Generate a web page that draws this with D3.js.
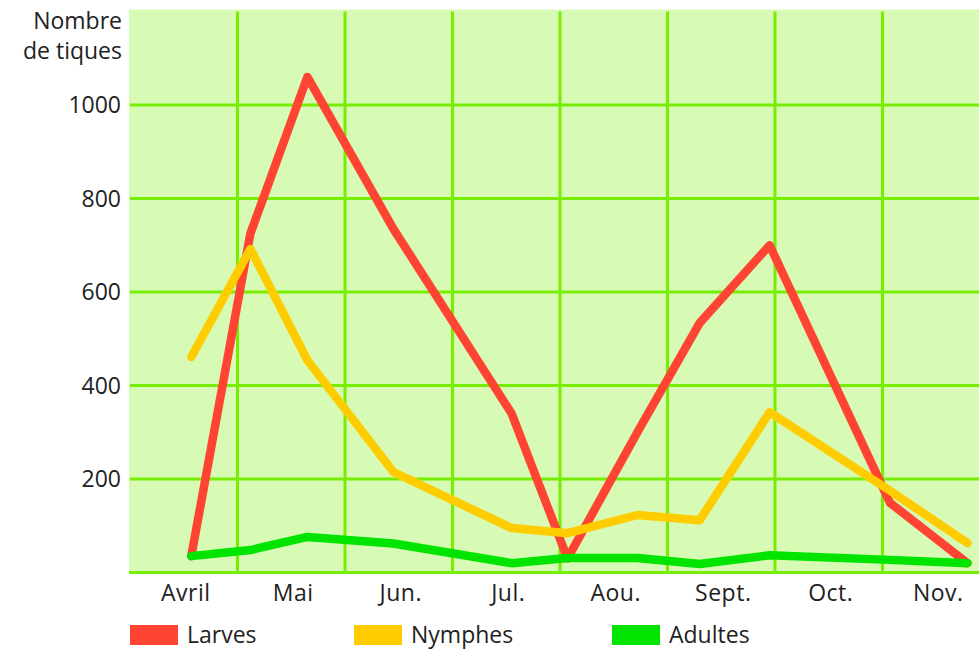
<!DOCTYPE html>
<html>
<head>
<meta charset="utf-8">
<script src="https://cdn.jsdelivr.net/npm/d3@7"></script>
<style>
  body { margin: 0; background: #fff; }
  text { font-family: "Open Sans", sans-serif; fill: #222; }
</style>
</head>
<body>
<svg id="chart"></svg>
<script>
// Months (x axis categories) and sampling positions (in months from start of Avril)
const months = ["Avril", "Mai", "Jun.", "Jul.", "Aou.", "Sept.", "Oct.", "Nov."];
const sampleAt = [0.57, 1.12, 1.65, 2.45, 3.55, 4.07, 4.72, 5.3, 5.95, 7.07, 7.79];

// Series values (nombre de tiques)
const larves  = [35, 725, 1060, 735, 340, 30, 300, 534, 700, 149, 20];
const nymphes = [461, 692, 454, 215, 95, 84, 123, 112, 343, 175, 63];
const adultes = [35, 48, 76, 62, 20, 31, 31, 18, 37, 27, 20];

const yTicks = [200, 400, 600, 800, 1000];
const yTitle = ["Nombre", "de tiques"];

const series = [
  { name: "Larves", values: larves, color: "#ff4433" },
  { name: "Nymphes", values: nymphes, color: "#ffcc00" },
  { name: "Adultes", values: adultes, color: "#00e400" }
];

const W = 979, H = 649;
const plot = { left: 130, right: 990, top: 11.5, bottom: 572.5 };

const svg = d3.select('#chart')
    .attr('width', W)
    .attr('height', H);

const x = d3.scaleLinear()
    .domain([0, months.length])
    .range([plot.left, plot.right]);

const y = d3.scaleLinear()
    .domain([0, 1200])
    .range([plot.bottom, plot.top]);

// background
svg.append('rect')
    .attr('x', plot.left - 1)
    .attr('y', 9.5)
    .attr('width', W - plot.left + 1)
    .attr('height', plot.bottom - 9.5)
    .attr('fill', '#d7fbb5');

// grid
const gridColor = '#77ee00';
svg.append('g')
  .selectAll('line')
  .data(d3.range(1, months.length))
  .enter().append('line')
    .attr('x1', d => x(d)).attr('x2', d => x(d))
    .attr('y1', plot.top).attr('y2', plot.bottom)
    .attr('stroke', gridColor)
    .attr('stroke-width', 3);

svg.append('g')
  .selectAll('line')
  .data(yTicks)
  .enter().append('line')
    .attr('x1', plot.left).attr('x2', W)
    .attr('y1', d => y(d)).attr('y2', d => y(d))
    .attr('stroke', gridColor)
    .attr('stroke-width', 3);

// bottom axis line
svg.append('line')
    .attr('x1', plot.left - 1).attr('x2', W)
    .attr('y1', y(0)).attr('y2', y(0))
    .attr('stroke', gridColor)
    .attr('stroke-width', 3);

// lines
const line = d3.line()
    .x((d, i) => x(sampleAt[i]))
    .y(d => y(d));

svg.append('g')
  .selectAll('path')
  .data(series)
  .enter().append('path')
    .attr('d', d => line(d.values))
    .attr('fill', 'none')
    .attr('stroke', d => d.color)
    .attr('stroke-width', 8.5)
    .attr('stroke-linejoin', 'round')
    .attr('stroke-linecap', 'round');

// y tick labels
svg.append('g')
  .selectAll('text')
  .data(yTicks)
  .enter().append('text')
    .attr('x', 121)
    .attr('y', d => y(d))
    .attr('dy', '0.35em')
    .attr('text-anchor', 'end')
    .style('font-size', '23px')
    .text(d => d);

// y title (two lines in one text)
svg.append('text')
    .attr('x', 122).attr('y', 29)
    .attr('text-anchor', 'end')
    .style('font-size', '23px')
  .selectAll('tspan')
  .data(yTitle)
  .enter().append('tspan')
    .attr('x', 122)
    .attr('dy', (d, i) => i ? 30 : 0)
    .text(d => d);

// month labels
svg.append('g')
  .selectAll('text')
  .data(months)
  .enter().append('text')
    .attr('x', (d, i) => x(i + 0.5) + 2)
    .attr('y', 601)
    .attr('text-anchor', 'middle')
    .style('font-size', '23px')
    .style('letter-spacing', '0.5px')
    .text(d => d);

// legend
const legendX = [130, 354, 612];
const legend = svg.append('g')
  .selectAll('g')
  .data(series)
  .enter().append('g')
    .attr('transform', (d, i) => `translate(${legendX[i]},625)`);

legend.append('rect')
    .attr('width', 48)
    .attr('height', 20)
    .attr('fill', d => d.color);

legend.append('text')
    .attr('x', 57)
    .attr('y', 18)
    .style('font-size', '23px')
    .text(d => d.name);
</script>
</body>
</html>
